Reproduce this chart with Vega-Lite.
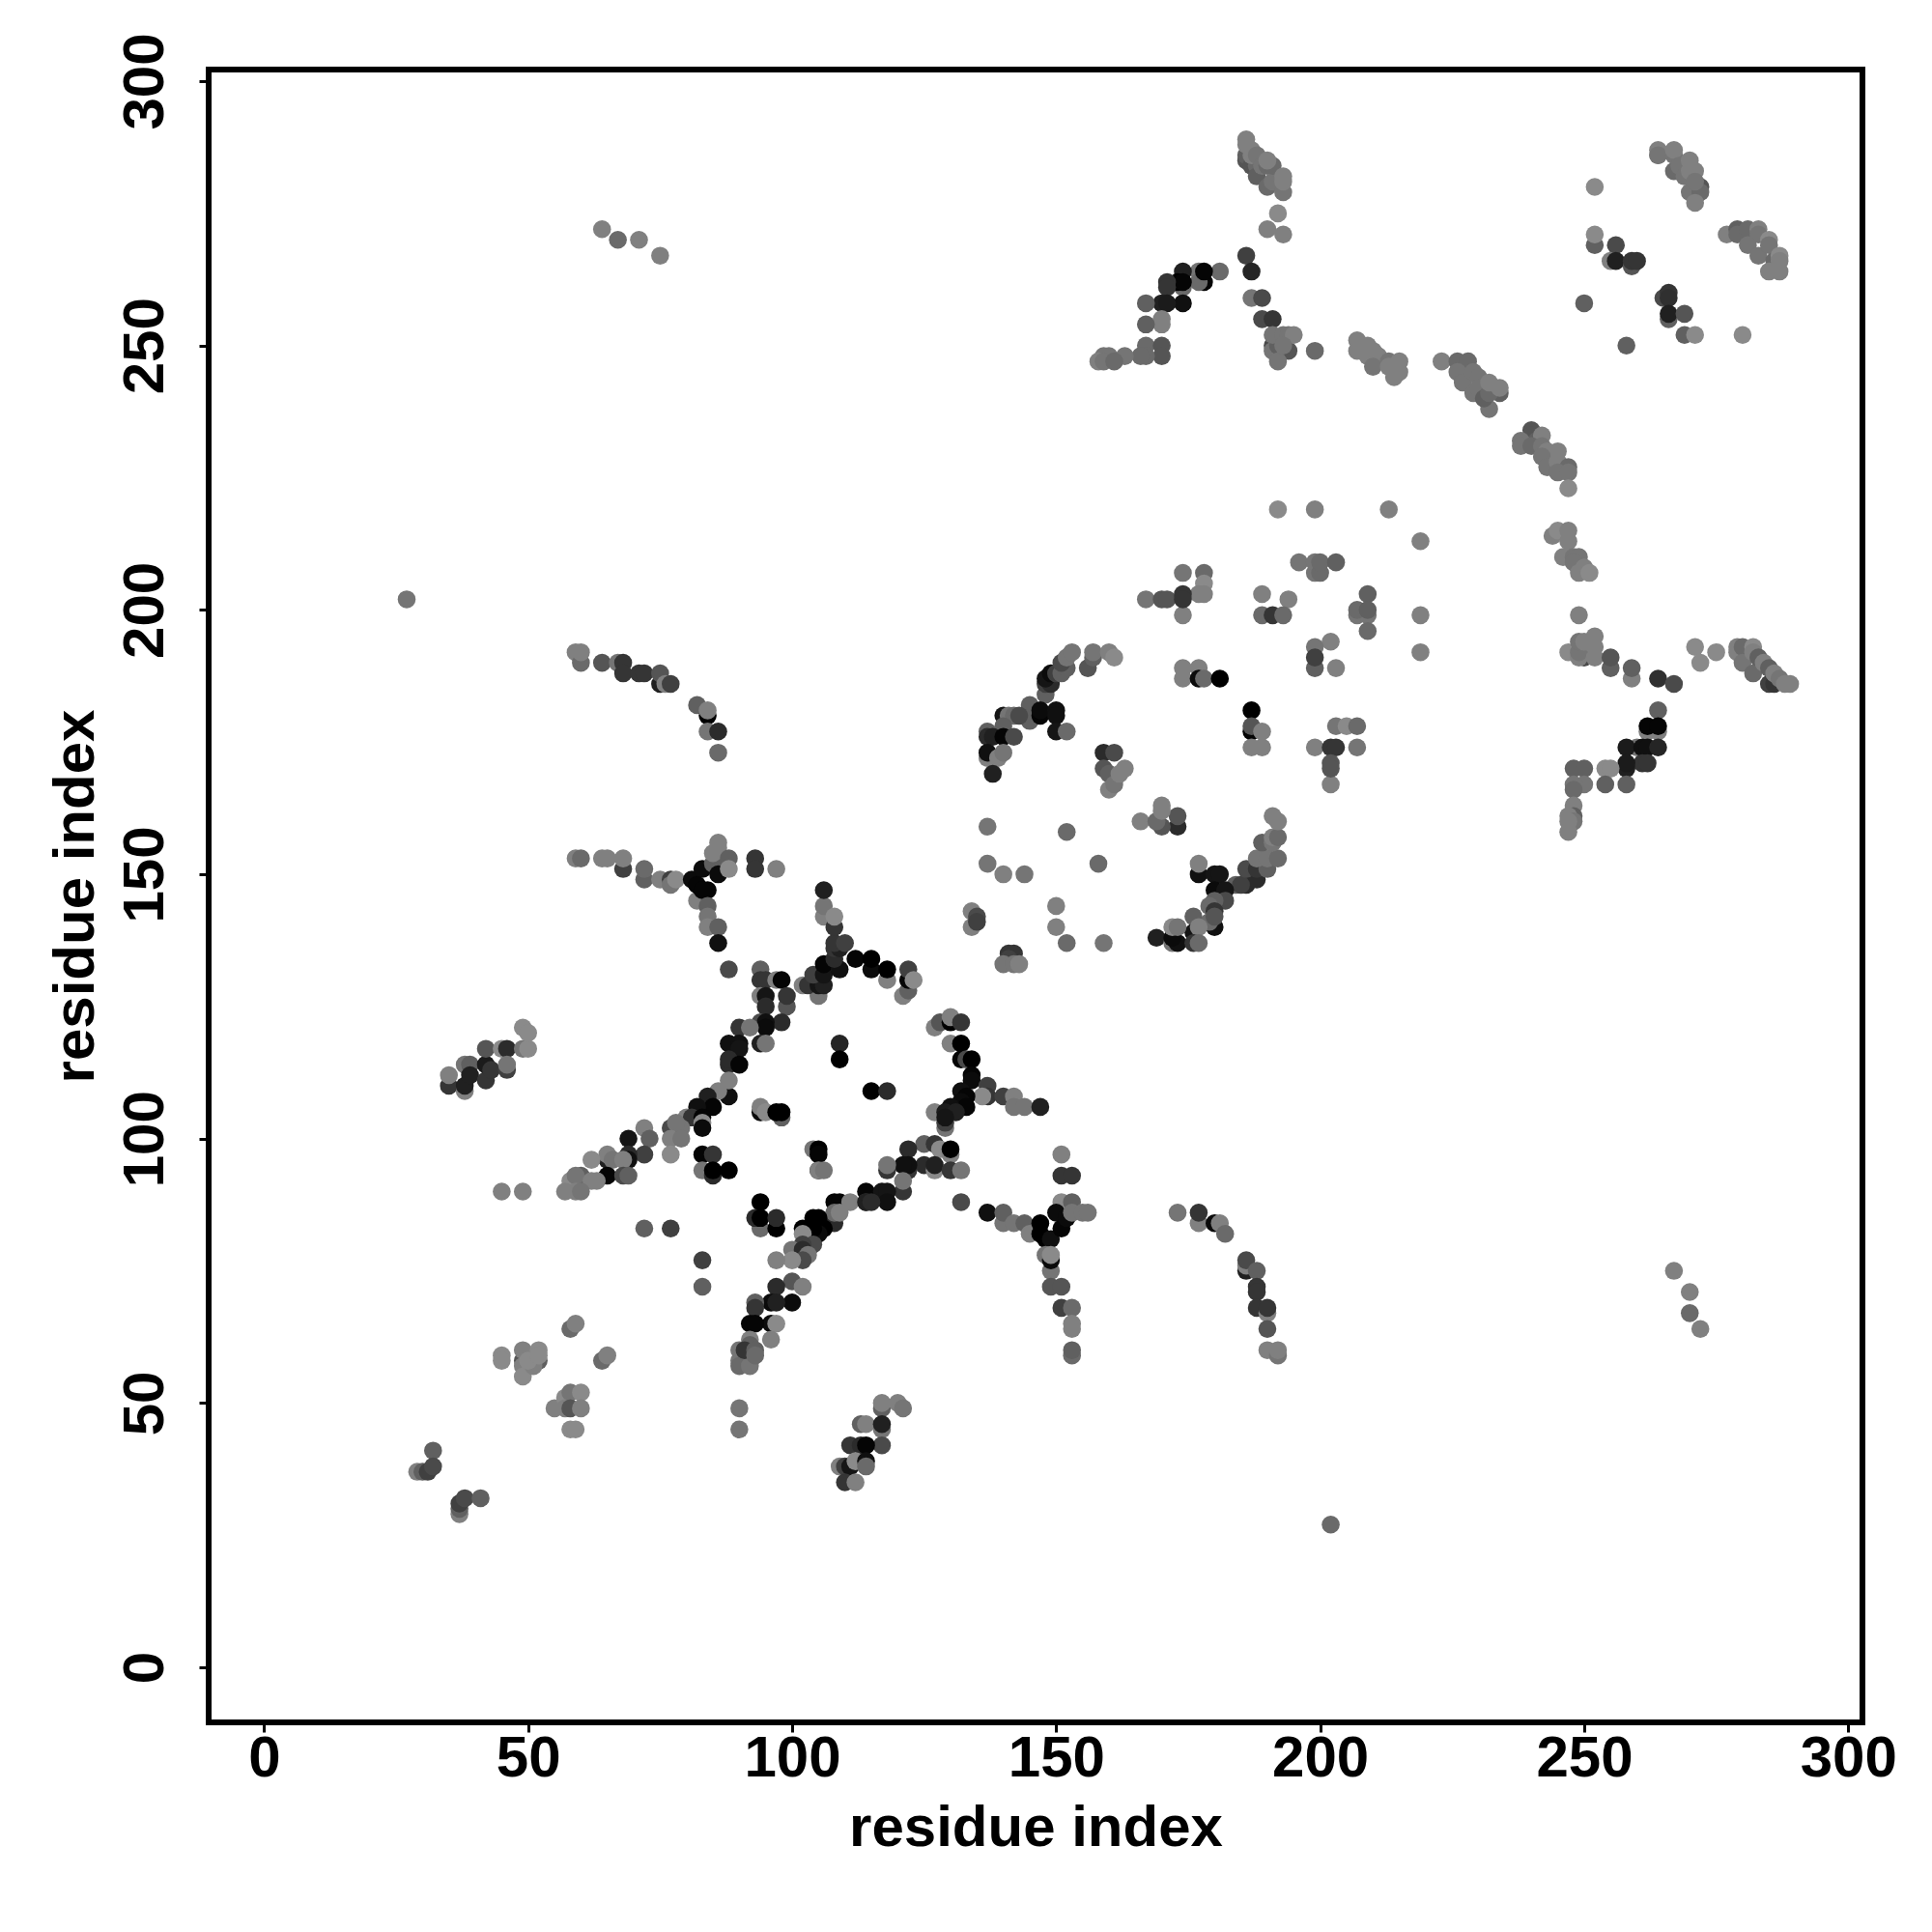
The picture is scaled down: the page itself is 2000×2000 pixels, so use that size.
{"$schema":"https://vega.github.io/schema/vega-lite/v6.json","autosize":{"type":"none"},"padding":{"left":216,"top":72,"right":72,"bottom":217},"width":1712,"height":1711,"background":"white","view":{"stroke":"black","strokeWidth":6,"fill":"white"},"data":{"values":[
{"x":59,"y":153,"c":120},{"x":60,"y":153,"c":100},{"x":64,"y":153,"c":120},{"x":65,"y":153,"c":120},{"x":68,"y":151,"c":60},{"x":68,"y":153,"c":120},{"x":72,"y":149,"c":90},{"x":72,"y":151,"c":100},{"x":75,"y":149,"c":120},{"x":77,"y":149,"c":60},{"x":77,"y":148,"c":110},{"x":78,"y":149,"c":130},{"x":82,"y":145,"c":120},{"x":81,"y":149,"c":10},{"x":83,"y":151,"c":10},{"x":82,"y":148,"c":5},{"x":84,"y":147,"c":5},{"x":83,"y":147,"c":5},{"x":85,"y":152,"c":90},{"x":86,"y":150,"c":10},{"x":85,"y":154,"c":120},{"x":86,"y":156,"c":120},{"x":86,"y":155,"c":120},{"x":88,"y":153,"c":90},{"x":88,"y":151,"c":130},{"x":93,"y":153,"c":50},{"x":93,"y":151,"c":50},{"x":97,"y":151,"c":120},{"x":84,"y":144,"c":90},{"x":84,"y":142,"c":110},{"x":84,"y":140,"c":120},{"x":86,"y":140,"c":90},{"x":86,"y":137,"c":15},{"x":88,"y":132,"c":70},
{"x":94,"y":132,"c":90},{"x":94,"y":130,"c":50},{"x":95,"y":130,"c":50},{"x":97,"y":130,"c":120},{"x":98,"y":130,"c":5},{"x":94,"y":127,"c":120},{"x":95,"y":127,"c":20},{"x":99,"y":125,"c":80},{"x":99,"y":127,"c":50},{"x":95,"y":125,"c":40},{"x":98,"y":122,"c":40},{"x":94,"y":122,"c":70},{"x":95,"y":122,"c":15},{"x":95,"y":121,"c":10},{"x":90,"y":121,"c":50},{"x":92,"y":121,"c":110},{"x":94,"y":118,"c":30},{"x":95,"y":118,"c":110},{"x":88,"y":118,"c":15},{"x":90,"y":118,"c":15},{"x":90,"y":117,"c":20},{"x":88,"y":114,"c":40},{"x":88,"y":115,"c":40},{"x":90,"y":114,"c":5},
{"x":88,"y":108,"c":15},{"x":86,"y":109,"c":120},{"x":88,"y":111,"c":120},{"x":84,"y":108,"c":30},{"x":85,"y":106,"c":5},{"x":82,"y":106,"c":15},{"x":80,"y":104,"c":120},{"x":81,"y":104,"c":50},{"x":83,"y":104,"c":5},{"x":79,"y":102,"c":110},{"x":77,"y":102,"c":70},{"x":78,"y":103,"c":110},{"x":83,"y":103,"c":130},{"x":83,"y":102,"c":10},{"x":77,"y":100,"c":120},{"x":79,"y":100,"c":110},{"x":77,"y":97,"c":130},
{"x":72,"y":102,"c":120},{"x":73,"y":100,"c":90},{"x":69,"y":100,"c":20},{"x":72,"y":97,"c":60},{"x":69,"y":97,"c":40},{"x":69,"y":96,"c":15},{"x":65,"y":96,"c":30},{"x":65,"y":97,"c":120},{"x":66,"y":96,"c":110},{"x":68,"y":96,"c":120},{"x":62,"y":96,"c":130},{"x":65,"y":93,"c":5},{"x":68,"y":93,"c":70},{"x":69,"y":93,"c":90},{"x":60,"y":93,"c":90},{"x":58,"y":92,"c":130},{"x":59,"y":93,"c":110},{"x":62,"y":92,"c":120},{"x":63,"y":92,"c":120},{"x":57,"y":90,"c":120},{"x":59,"y":90,"c":120},{"x":60,"y":90,"c":110},{"x":45,"y":90,"c":120},{"x":49,"y":90,"c":120},
{"x":35,"y":110,"c":50},{"x":35,"y":112,"c":120},{"x":38,"y":109,"c":120},{"x":38,"y":110,"c":30},{"x":38,"y":114,"c":110},{"x":39,"y":114,"c":90},{"x":39,"y":112,"c":30},{"x":42,"y":111,"c":50},{"x":42,"y":114,"c":25},{"x":43,"y":113,"c":50},{"x":42,"y":117,"c":80},{"x":45,"y":117,"c":130},{"x":46,"y":117,"c":40},{"x":46,"y":113,"c":60},{"x":46,"y":114,"c":110},{"x":49,"y":117,"c":110},{"x":50,"y":117,"c":130},{"x":49,"y":121,"c":130},{"x":50,"y":120,"c":130},
{"x":109,"y":118,"c":35},{"x":109,"y":115,"c":0},{"x":115,"y":109,"c":0},{"x":118,"y":109,"c":40},{"x":94,"y":105,"c":10},{"x":94,"y":106,"c":120},{"x":95,"y":105,"c":130},{"x":98,"y":104,"c":90},{"x":97,"y":105,"c":0},{"x":98,"y":105,"c":0},{"x":104,"y":98,"c":110},{"x":105,"y":98,"c":0},{"x":105,"y":97,"c":5},{"x":105,"y":94,"c":10},{"x":105,"y":94,"c":120},{"x":106,"y":94,"c":110},
{"x":83,"y":97,"c":5},{"x":85,"y":97,"c":50},{"x":83,"y":94,"c":110},{"x":85,"y":93,"c":40},{"x":85,"y":94,"c":0},{"x":88,"y":94,"c":0},{"x":72,"y":83,"c":90},{"x":77,"y":83,"c":60},{"x":83,"y":77,"c":60},{"x":83,"y":72,"c":90},
{"x":94,"y":83,"c":100},{"x":94,"y":88,"c":0},{"x":93,"y":85,"c":40},{"x":94,"y":85,"c":0},{"x":97,"y":83,"c":0},{"x":97,"y":85,"c":40},
{"x":114,"y":90,"c":5},{"x":114,"y":88,"c":50},{"x":108,"y":88,"c":5},{"x":109,"y":88,"c":5},{"x":111,"y":88,"c":120},{"x":108,"y":84,"c":40},{"x":108,"y":86,"c":100},{"x":109,"y":86,"c":120},{"x":105,"y":85,"c":0},{"x":104,"y":85,"c":0},{"x":106,"y":83,"c":0},{"x":105,"y":82,"c":10},{"x":104,"y":83,"c":0},{"x":102,"y":83,"c":0},{"x":102,"y":82,"c":130},{"x":104,"y":80,"c":70},{"x":102,"y":80,"c":60},{"x":100,"y":79,"c":110},{"x":102,"y":79,"c":40},{"x":103,"y":78,"c":110},{"x":102,"y":77,"c":70},{"x":100,"y":77,"c":130},{"x":97,"y":77,"c":120},
{"x":100,"y":73,"c":80},{"x":102,"y":72,"c":120},{"x":97,"y":72,"c":40},{"x":100,"y":69,"c":10},{"x":96,"y":69,"c":10},{"x":97,"y":69,"c":30},{"x":93,"y":69,"c":90},{"x":93,"y":68,"c":50},{"x":96,"y":65,"c":10},{"x":97,"y":65,"c":130},{"x":92,"y":65,"c":5},{"x":93,"y":65,"c":5},{"x":96,"y":62,"c":120},{"x":92,"y":62,"c":120},{"x":92,"y":61,"c":90},{"x":90,"y":60,"c":110},{"x":90,"y":58,"c":110},{"x":90,"y":57,"c":100},{"x":92,"y":57,"c":110},{"x":91,"y":60,"c":50},{"x":93,"y":60,"c":90},{"x":93,"y":59,"c":100},{"x":90,"y":49,"c":110},{"x":90,"y":45,"c":110},
{"x":45,"y":59,"c":130},{"x":45,"y":58,"c":130},{"x":49,"y":58,"c":80},{"x":49,"y":60,"c":120},{"x":49,"y":57,"c":120},{"x":49,"y":55,"c":130},{"x":52,"y":58,"c":90},{"x":52,"y":60,"c":130},{"x":51,"y":57,"c":120},{"x":50,"y":58,"c":130},{"x":52,"y":59,"c":130},{"x":58,"y":64,"c":100},{"x":59,"y":65,"c":120},{"x":64,"y":58,"c":100},{"x":65,"y":59,"c":120},
{"x":55,"y":49,"c":120},{"x":57,"y":51,"c":130},{"x":58,"y":52,"c":110},{"x":60,"y":52,"c":130},{"x":57,"y":49,"c":120},{"x":58,"y":49,"c":80},{"x":60,"y":49,"c":120},{"x":58,"y":45,"c":130},{"x":59,"y":45,"c":130},
{"x":32,"y":41,"c":90},{"x":29,"y":37,"c":120},{"x":30,"y":37,"c":90},{"x":31,"y":37,"c":60},{"x":32,"y":38,"c":70},{"x":37,"y":29,"c":120},{"x":37,"y":30,"c":90},{"x":37,"y":31,"c":60},{"x":38,"y":32,"c":70},{"x":41,"y":32,"c":90},
{"x":127,"y":121,"c":120},{"x":128,"y":122,"c":80},{"x":130,"y":122,"c":0},{"x":130,"y":123,"c":120},{"x":132,"y":122,"c":50},{"x":130,"y":118,"c":120},{"x":132,"y":118,"c":0},{"x":132,"y":115,"c":5},{"x":133,"y":115,"c":70},{"x":134,"y":115,"c":0},{"x":134,"y":112,"c":5},{"x":134,"y":111,"c":10},{"x":137,"y":110,"c":60},{"x":132,"y":109,"c":15},{"x":137,"y":108,"c":50},{"x":140,"y":108,"c":60},{"x":142,"y":108,"c":120},{"x":142,"y":106,"c":110},{"x":144,"y":106,"c":110},{"x":147,"y":106,"c":30},{"x":136,"y":108,"c":130},{"x":133,"y":108,"c":5},{"x":132,"y":107,"c":10},{"x":127,"y":105,"c":120},{"x":133,"y":106,"c":5},{"x":130,"y":106,"c":15},{"x":129,"y":105,"c":25},{"x":131,"y":105,"c":30},{"x":129,"y":102,"c":110},{"x":129,"y":103,"c":60},{"x":129,"y":104,"c":20},
{"x":125,"y":99,"c":90},{"x":122,"y":98,"c":40},{"x":127,"y":99,"c":50},{"x":128,"y":98,"c":130},{"x":130,"y":97,"c":120},{"x":130,"y":98,"c":0},{"x":125,"y":95,"c":40},{"x":127,"y":94,"c":130},{"x":127,"y":95,"c":30},{"x":130,"y":94,"c":50},{"x":132,"y":94,"c":110},{"x":122,"y":94,"c":50},{"x":122,"y":95,"c":15},{"x":121,"y":95,"c":15},{"x":118,"y":94,"c":50},{"x":118,"y":95,"c":110},{"x":121,"y":90,"c":50},{"x":121,"y":92,"c":110},{"x":117,"y":90,"c":20},{"x":118,"y":90,"c":20},{"x":118,"y":88,"c":15},{"x":114,"y":88,"c":30},{"x":115,"y":88,"c":40},{"x":132,"y":88,"c":70},
{"x":137,"y":86,"c":15},{"x":140,"y":84,"c":110},{"x":140,"y":86,"c":90},{"x":142,"y":84,"c":110},{"x":144,"y":84,"c":90},{"x":145,"y":82,"c":120},{"x":147,"y":84,"c":0},{"x":147,"y":82,"c":0},{"x":148,"y":81,"c":0},{"x":149,"y":81,"c":15},{"x":151,"y":88,"c":130},{"x":150,"y":86,"c":10},{"x":151,"y":83,"c":5},{"x":152,"y":85,"c":10},{"x":153,"y":88,"c":90},{"x":153,"y":86,"c":110},{"x":155,"y":86,"c":110},{"x":156,"y":86,"c":110},{"x":151,"y":97,"c":120},{"x":151,"y":93,"c":50},{"x":153,"y":93,"c":50},
{"x":148,"y":78,"c":110},{"x":149,"y":75,"c":110},{"x":149,"y":77,"c":10},{"x":149,"y":78,"c":130},{"x":149,"y":72,"c":80},{"x":151,"y":72,"c":80},{"x":151,"y":68,"c":60},{"x":153,"y":68,"c":100},{"x":153,"y":65,"c":120},{"x":153,"y":64,"c":120},{"x":153,"y":59,"c":100},{"x":153,"y":60,"c":90},
{"x":173,"y":86,"c":110},{"x":177,"y":84,"c":120},{"x":177,"y":86,"c":50},{"x":180,"y":84,"c":10},{"x":181,"y":84,"c":120},{"x":182,"y":82,"c":100},{"x":186,"y":75,"c":30},{"x":186,"y":76,"c":120},{"x":186,"y":77,"c":70},{"x":188,"y":75,"c":90},{"x":188,"y":72,"c":50},{"x":188,"y":71,"c":50},{"x":188,"y":68,"c":50},{"x":190,"y":67,"c":120},{"x":190,"y":68,"c":50},{"x":190,"y":64,"c":80},{"x":190,"y":60,"c":120},{"x":192,"y":59,"c":110},{"x":192,"y":60,"c":120},
{"x":117,"y":49,"c":90},{"x":117,"y":50,"c":120},{"x":120,"y":50,"c":120},{"x":121,"y":49,"c":110},{"x":113,"y":46,"c":90},{"x":114,"y":46,"c":120},{"x":117,"y":45,"c":110},{"x":117,"y":46,"c":30},{"x":117,"y":42,"c":70},{"x":111,"y":42,"c":50},{"x":113,"y":42,"c":40},{"x":114,"y":42,"c":5},{"x":109,"y":38,"c":120},{"x":110,"y":38,"c":60},{"x":111,"y":38,"c":20},{"x":112,"y":39,"c":130},{"x":114,"y":39,"c":15},{"x":114,"y":38,"c":100},{"x":110,"y":35,"c":50},{"x":112,"y":35,"c":120},
{"x":186,"y":285,"c":80},{"x":186,"y":286,"c":90},{"x":187,"y":284,"c":80},{"x":188,"y":284,"c":100},{"x":188,"y":282,"c":90},{"x":186,"y":289,"c":120},{"x":186,"y":288,"c":120},{"x":187,"y":287,"c":120},{"x":187,"y":286,"c":120},{"x":188,"y":286,"c":110},{"x":189,"y":284,"c":110},{"x":190,"y":280,"c":100},{"x":190,"y":284,"c":100},{"x":191,"y":281,"c":110},{"x":191,"y":284,"c":100},{"x":190,"y":285,"c":120},{"x":193,"y":279,"c":110},{"x":193,"y":281,"c":120},{"x":193,"y":282,"c":120},{"x":192,"y":275,"c":130},{"x":190,"y":272,"c":120},{"x":193,"y":271,"c":120},
{"x":186,"y":267,"c":60},{"x":187,"y":264,"c":35},{"x":181,"y":264,"c":100},{"x":187,"y":259,"c":110},{"x":189,"y":259,"c":70},{"x":189,"y":255,"c":70},{"x":191,"y":255,"c":50},
{"x":191,"y":250,"c":70},{"x":191,"y":249,"c":110},{"x":192,"y":250,"c":90},{"x":193,"y":249,"c":90},{"x":194,"y":249,"c":80},{"x":192,"y":247,"c":110},{"x":191,"y":252,"c":110},{"x":193,"y":252,"c":110},{"x":194,"y":252,"c":110},{"x":195,"y":252,"c":120},{"x":193,"y":250,"c":110},{"x":199,"y":249,"c":100},
{"x":207,"y":251,"c":120},{"x":207,"y":249,"c":120},{"x":209,"y":250,"c":120},{"x":210,"y":249,"c":120},{"x":209,"y":248,"c":120},{"x":211,"y":248,"c":120},{"x":210,"y":246,"c":110},{"x":213,"y":247,"c":110},{"x":215,"y":247,"c":120},{"x":214,"y":244,"c":120},{"x":215,"y":245,"c":120},{"x":213,"y":246,"c":120},
{"x":223,"y":247,"c":120},{"x":226,"y":247,"c":100},{"x":228,"y":247,"c":100},{"x":226,"y":245,"c":110},{"x":227,"y":243,"c":110},{"x":229,"y":245,"c":110},{"x":230,"y":244,"c":110},{"x":229,"y":241,"c":110},{"x":230,"y":242,"c":110},{"x":232,"y":238,"c":110},{"x":231,"y":240,"c":90},{"x":234,"y":241,"c":90},{"x":232,"y":241,"c":100},{"x":232,"y":243,"c":120},{"x":234,"y":242,"c":120},
{"x":240,"y":234,"c":80},{"x":240,"y":233,"c":80},{"x":241,"y":232,"c":90},{"x":238,"y":232,"c":110},{"x":238,"y":231,"c":110},{"x":242,"y":233,"c":120},{"x":240,"y":231,"c":100},{"x":242,"y":231,"c":110},{"x":243,"y":230,"c":120},{"x":245,"y":230,"c":120},{"x":242,"y":229,"c":110},{"x":243,"y":227,"c":110},{"x":245,"y":228,"c":120},{"x":247,"y":227,"c":100},{"x":245,"y":226,"c":110},{"x":247,"y":226,"c":110},{"x":247,"y":223,"c":130},
{"x":264,"y":287,"c":120},{"x":264,"y":286,"c":120},{"x":264,"y":286,"c":110},{"x":267,"y":283,"c":100},{"x":267,"y":286,"c":110},{"x":267,"y":287,"c":120},{"x":268,"y":284,"c":110},{"x":269,"y":282,"c":110},{"x":270,"y":285,"c":120},{"x":270,"y":283,"c":120},{"x":270,"y":279,"c":110},{"x":272,"y":280,"c":80},{"x":272,"y":279,"c":100},{"x":271,"y":283,"c":120},{"x":271,"y":281,"c":110},{"x":271,"y":277,"c":120},{"x":252,"y":280,"c":130},
{"x":252,"y":269,"c":90},{"x":252,"y":271,"c":130},{"x":256,"y":269,"c":70},{"x":255,"y":266,"c":120},{"x":256,"y":266,"c":30},{"x":259,"y":265,"c":80},{"x":259,"y":266,"c":50},{"x":260,"y":266,"c":50},{"x":265,"y":259,"c":70},{"x":266,"y":260,"c":50},{"x":266,"y":259,"c":45},{"x":266,"y":255,"c":90},{"x":266,"y":256,"c":30},{"x":269,"y":256,"c":80},{"x":269,"y":252,"c":90},{"x":271,"y":252,"c":130},{"x":280,"y":252,"c":130},{"x":250,"y":258,"c":90},{"x":258,"y":250,"c":90},
{"x":277,"y":271,"c":120},{"x":279,"y":272,"c":90},{"x":279,"y":271,"c":100},{"x":281,"y":272,"c":100},{"x":283,"y":272,"c":120},{"x":283,"y":271,"c":110},{"x":281,"y":269,"c":110},{"x":285,"y":270,"c":130},{"x":283,"y":267,"c":110},{"x":285,"y":269,"c":110},{"x":286,"y":266,"c":100},{"x":287,"y":267,"c":130},{"x":285,"y":264,"c":120},{"x":287,"y":264,"c":120},{"x":287,"y":266,"c":120},
{"x":192,"y":219,"c":130},{"x":199,"y":219,"c":120},{"x":213,"y":219,"c":120},{"x":219,"y":213,"c":120},{"x":219,"y":199,"c":120},{"x":219,"y":192,"c":120},
{"x":244,"y":214,"c":120},{"x":245,"y":215,"c":130},{"x":247,"y":215,"c":120},{"x":247,"y":213,"c":120},{"x":246,"y":210,"c":120},{"x":248,"y":210,"c":110},{"x":249,"y":210,"c":110},{"x":248,"y":209,"c":110},{"x":249,"y":207,"c":120},{"x":250,"y":208,"c":120},{"x":251,"y":207,"c":130},{"x":249,"y":199,"c":120},
{"x":247,"y":192,"c":130},{"x":250,"y":191,"c":70},{"x":249,"y":191,"c":120},{"x":249,"y":192,"c":110},{"x":249,"y":194,"c":110},{"x":250,"y":194,"c":120},{"x":252,"y":195,"c":120},{"x":252,"y":193,"c":120},{"x":252,"y":191,"c":120},{"x":255,"y":189,"c":90},{"x":255,"y":191,"c":80},{"x":259,"y":187,"c":120},{"x":259,"y":189,"c":90},{"x":264,"y":187,"c":45},{"x":267,"y":186,"c":70},
{"x":271,"y":193,"c":130},{"x":272,"y":190,"c":130},{"x":275,"y":192,"c":130},{"x":279,"y":193,"c":120},{"x":279,"y":192,"c":120},{"x":280,"y":193,"c":100},{"x":280,"y":190,"c":110},{"x":282,"y":193,"c":130},{"x":282,"y":192,"c":120},{"x":282,"y":188,"c":100},{"x":283,"y":191,"c":90},{"x":285,"y":186,"c":60},{"x":286,"y":186,"c":50},{"x":284,"y":190,"c":120},{"x":285,"y":189,"c":90},{"x":286,"y":188,"c":120},{"x":287,"y":187,"c":110},{"x":288,"y":186,"c":120},{"x":289,"y":186,"c":120},
{"x":264,"y":181,"c":90},{"x":262,"y":177,"c":120},{"x":264,"y":177,"c":120},{"x":262,"y":178,"c":5},{"x":264,"y":178,"c":5},{"x":260,"y":174,"c":110},{"x":258,"y":174,"c":25},{"x":261,"y":174,"c":15},{"x":262,"y":174,"c":15},{"x":264,"y":174,"c":35},{"x":261,"y":171,"c":50},{"x":262,"y":171,"c":50},{"x":258,"y":170,"c":30},{"x":258,"y":171,"c":25},{"x":258,"y":167,"c":90},{"x":254,"y":170,"c":130},{"x":255,"y":170,"c":130},{"x":254,"y":167,"c":90},
{"x":248,"y":170,"c":90},{"x":250,"y":170,"c":90},{"x":250,"y":167,"c":110},{"x":248,"y":167,"c":110},{"x":248,"y":166,"c":100},{"x":248,"y":163,"c":120},{"x":248,"y":161,"c":90},{"x":247,"y":161,"c":120},{"x":248,"y":160,"c":110},{"x":247,"y":160,"c":120},{"x":247,"y":158,"c":120},
{"x":196,"y":209,"c":110},{"x":199,"y":207,"c":110},{"x":199,"y":209,"c":110},{"x":200,"y":207,"c":100},{"x":200,"y":209,"c":100},{"x":203,"y":209,"c":90},{"x":174,"y":207,"c":110},{"x":178,"y":207,"c":100},{"x":178,"y":205,"c":130},{"x":177,"y":203,"c":120},{"x":178,"y":203,"c":120},{"x":167,"y":202,"c":110},{"x":170,"y":202,"c":80},{"x":171,"y":202,"c":80},{"x":174,"y":199,"c":120},{"x":174,"y":203,"c":50},{"x":174,"y":202,"c":50},
{"x":189,"y":203,"c":120},{"x":194,"y":202,"c":120},{"x":189,"y":199,"c":100},{"x":191,"y":199,"c":50},{"x":193,"y":199,"c":100},{"x":209,"y":203,"c":90},{"x":207,"y":199,"c":110},{"x":209,"y":199,"c":110},{"x":207,"y":200,"c":100},{"x":209,"y":200,"c":90},{"x":209,"y":196,"c":100},{"x":202,"y":194,"c":120},{"x":199,"y":189,"c":90},{"x":199,"y":193,"c":110},{"x":199,"y":191,"c":60},{"x":203,"y":189,"c":120},
{"x":174,"y":189,"c":120},{"x":177,"y":189,"c":120},{"x":174,"y":187,"c":120},{"x":177,"y":187,"c":10},{"x":178,"y":187,"c":100},{"x":181,"y":187,"c":0},{"x":187,"y":181,"c":0},{"x":187,"y":177,"c":5},{"x":187,"y":178,"c":80},{"x":189,"y":177,"c":120},{"x":187,"y":174,"c":120},{"x":189,"y":174,"c":120},
{"x":203,"y":178,"c":110},{"x":205,"y":178,"c":130},{"x":207,"y":178,"c":100},{"x":199,"y":174,"c":120},{"x":202,"y":174,"c":50},{"x":203,"y":174,"c":50},{"x":207,"y":174,"c":110},{"x":202,"y":167,"c":120},{"x":202,"y":171,"c":80},{"x":202,"y":170,"c":80},
{"x":148,"y":184,"c":90},{"x":148,"y":186,"c":60},{"x":149,"y":186,"c":40},{"x":148,"y":187,"c":20},{"x":149,"y":188,"c":10},{"x":150,"y":188,"c":60},{"x":151,"y":188,"c":90},{"x":152,"y":189,"c":90},{"x":151,"y":190,"c":70},{"x":152,"y":191,"c":110},{"x":156,"y":189,"c":80},{"x":153,"y":192,"c":110},{"x":157,"y":191,"c":90},{"x":157,"y":192,"c":110},{"x":160,"y":192,"c":120},{"x":161,"y":191,"c":130},
{"x":145,"y":182,"c":90},{"x":145,"y":179,"c":90},{"x":147,"y":180,"c":5},{"x":147,"y":181,"c":10},{"x":150,"y":181,"c":15},{"x":150,"y":180,"c":15},{"x":150,"y":177,"c":20},{"x":152,"y":177,"c":100},{"x":140,"y":180,"c":20},{"x":141,"y":180,"c":110},{"x":142,"y":180,"c":100},{"x":143,"y":180,"c":70},{"x":140,"y":178,"c":90},{"x":137,"y":177,"c":90},{"x":137,"y":176,"c":40},{"x":138,"y":176,"c":30},{"x":140,"y":176,"c":5},{"x":142,"y":176,"c":70},{"x":137,"y":172,"c":120},{"x":137,"y":173,"c":15},{"x":139,"y":172,"c":120},{"x":140,"y":173,"c":110},{"x":138,"y":169,"c":30},
{"x":159,"y":173,"c":40},{"x":161,"y":173,"c":70},{"x":159,"y":170,"c":80},{"x":160,"y":169,"c":90},{"x":160,"y":166,"c":120},{"x":161,"y":167,"c":110},{"x":162,"y":169,"c":120},{"x":163,"y":170,"c":120},
{"x":173,"y":159,"c":40},{"x":173,"y":161,"c":80},{"x":170,"y":159,"c":80},{"x":166,"y":160,"c":120},{"x":169,"y":160,"c":100},{"x":170,"y":162,"c":120},{"x":170,"y":163,"c":120},
{"x":137,"y":159,"c":110},{"x":152,"y":158,"c":100},{"x":137,"y":152,"c":110},{"x":140,"y":150,"c":120},{"x":144,"y":150,"c":110},{"x":158,"y":152,"c":100},
{"x":186,"y":148,"c":40},{"x":188,"y":149,"c":40},{"x":184,"y":148,"c":90},{"x":185,"y":148,"c":60},{"x":186,"y":151,"c":70},{"x":188,"y":151,"c":50},{"x":190,"y":151,"c":90},{"x":188,"y":153,"c":110},{"x":190,"y":153,"c":110},{"x":192,"y":153,"c":100},{"x":189,"y":156,"c":90},{"x":191,"y":156,"c":110},{"x":191,"y":157,"c":120},{"x":192,"y":157,"c":100},{"x":191,"y":161,"c":120},{"x":192,"y":160,"c":120},
{"x":177,"y":150,"c":15},{"x":177,"y":152,"c":120},{"x":180,"y":150,"c":20},{"x":181,"y":150,"c":20},{"x":180,"y":147,"c":10},{"x":182,"y":147,"c":20},{"x":182,"y":145,"c":70},{"x":180,"y":145,"c":90},{"x":179,"y":144,"c":100},{"x":180,"y":143,"c":50},{"x":180,"y":140,"c":15},{"x":179,"y":141,"c":100},{"x":180,"y":142,"c":80},{"x":176,"y":142,"c":90},{"x":176,"y":139,"c":20},{"x":177,"y":140,"c":120},{"x":169,"y":138,"c":30},{"x":172,"y":137,"c":110},{"x":173,"y":137,"c":15},{"x":172,"y":138,"c":10},{"x":172,"y":140,"c":130},{"x":173,"y":140,"c":110},{"x":176,"y":137,"c":50},{"x":177,"y":137,"c":100},
{"x":150,"y":144,"c":120},{"x":150,"y":140,"c":120},{"x":152,"y":137,"c":100},{"x":159,"y":137,"c":110},{"x":134,"y":143,"c":120},{"x":134,"y":140,"c":120},{"x":135,"y":142,"c":70},{"x":135,"y":141,"c":60},{"x":141,"y":135,"c":50},{"x":142,"y":135,"c":50},{"x":141,"y":134,"c":60},{"x":140,"y":133,"c":110},{"x":142,"y":133,"c":110},{"x":143,"y":133,"c":120},
{"x":178,"y":262,"c":5},{"x":177,"y":264,"c":110},{"x":177,"y":262,"c":100},{"x":178,"y":264,"c":5},{"x":174,"y":261,"c":100},{"x":174,"y":264,"c":30},{"x":173,"y":262,"c":0},{"x":174,"y":262,"c":5},{"x":171,"y":262,"c":50},{"x":171,"y":261,"c":50},{"x":174,"y":258,"c":15},{"x":170,"y":258,"c":30},{"x":171,"y":258,"c":25},{"x":167,"y":258,"c":90},{"x":170,"y":255,"c":120},{"x":170,"y":254,"c":120},{"x":167,"y":254,"c":90},{"x":167,"y":250,"c":100},{"x":170,"y":250,"c":80},{"x":170,"y":248,"c":80},{"x":167,"y":248,"c":100},{"x":166,"y":248,"c":100},{"x":163,"y":248,"c":110},{"x":160,"y":248,"c":110},{"x":159,"y":248,"c":110},{"x":158,"y":247,"c":120},{"x":159,"y":247,"c":110},{"x":161,"y":247,"c":100},
{"x":64,"y":272,"c":120},{"x":67,"y":270,"c":100},{"x":71,"y":270,"c":120},{"x":75,"y":267,"c":120},
{"x":59,"y":192,"c":120},{"x":60,"y":190,"c":100},{"x":60,"y":192,"c":120},{"x":64,"y":190,"c":80},{"x":67,"y":190,"c":110},{"x":68,"y":190,"c":50},{"x":68,"y":188,"c":50},{"x":71,"y":188,"c":50},{"x":72,"y":188,"c":50},{"x":75,"y":186,"c":30},{"x":75,"y":188,"c":80},{"x":76,"y":186,"c":120},{"x":77,"y":186,"c":60},{"x":82,"y":182,"c":90},{"x":84,"y":180,"c":0},{"x":84,"y":181,"c":120},{"x":84,"y":177,"c":110},{"x":86,"y":177,"c":40},{"x":86,"y":173,"c":100},
{"x":105,"y":127,"c":110},{"x":102,"y":129,"c":120},{"x":103,"y":129,"c":50},{"x":105,"y":129,"c":20},{"x":106,"y":129,"c":30},{"x":104,"y":131,"c":60},{"x":106,"y":131,"c":20},{"x":106,"y":133,"c":5},{"x":109,"y":132,"c":15},{"x":108,"y":134,"c":40},{"x":108,"y":136,"c":50},{"x":109,"y":136,"c":30},{"x":108,"y":137,"c":50},{"x":110,"y":137,"c":60},{"x":106,"y":142,"c":120},{"x":106,"y":144,"c":110},{"x":106,"y":147,"c":30},{"x":108,"y":140,"c":50},{"x":108,"y":142,"c":130},{"x":112,"y":134,"c":5},{"x":115,"y":132,"c":10},{"x":115,"y":134,"c":0},{"x":118,"y":130,"c":120},{"x":118,"y":132,"c":0},{"x":121,"y":127,"c":120},{"x":122,"y":128,"c":90},{"x":122,"y":130,"c":5},{"x":122,"y":132,"c":60},{"x":123,"y":130,"c":130},
{"x":202,"y":27,"c":100},{"x":27,"y":202,"c":110},{"x":267,"y":75,"c":120},{"x":270,"y":71,"c":120},{"x":270,"y":67,"c":100},{"x":272,"y":64,"c":120}
]},"mark":{"type":"circle","size":345,"opacity":1},"encoding":{"x":{"field":"x","type":"quantitative","scale":{"domain":[-10.5,302.7],"nice":false,"zero":false},"axis":{"title":"residue index","values":[0,50,100,150,200,250,300],"grid":false,"domain":false,"tickColor":"black","tickWidth":3,"tickSize":10,"labelFont":"Liberation Sans","labelFontWeight":"bold","labelFontSize":60,"labelColor":"black","labelPadding":-2,"labelFlush":false,"labelOverlap":false,"titleFont":"Liberation Sans","titleFontWeight":"bold","titleFontSize":60,"titleColor":"black","titlePadding":13}},"y":{"field":"y","type":"quantitative","scale":{"domain":[-10.4,302.2],"nice":false,"zero":false},"axis":{"title":"residue index","values":[0,50,100,150,200,250,300],"grid":false,"domain":false,"tickColor":"black","tickWidth":3,"tickSize":10,"labelFont":"Liberation Sans","labelFontWeight":"bold","labelFontSize":60,"labelColor":"black","labelAngle":-90,"labelAlign":"center","labelBaseline":"bottom","labelPadding":25,"labelFlush":false,"labelOverlap":false,"titleFont":"Liberation Sans","titleFontWeight":"bold","titleFontSize":60,"titleColor":"black","titlePadding":11}},"color":{"field":"c","type":"quantitative","scale":{"domain":[0,240],"range":["#000000","#ffffff"],"interpolate":"rgb"},"legend":null}}}
